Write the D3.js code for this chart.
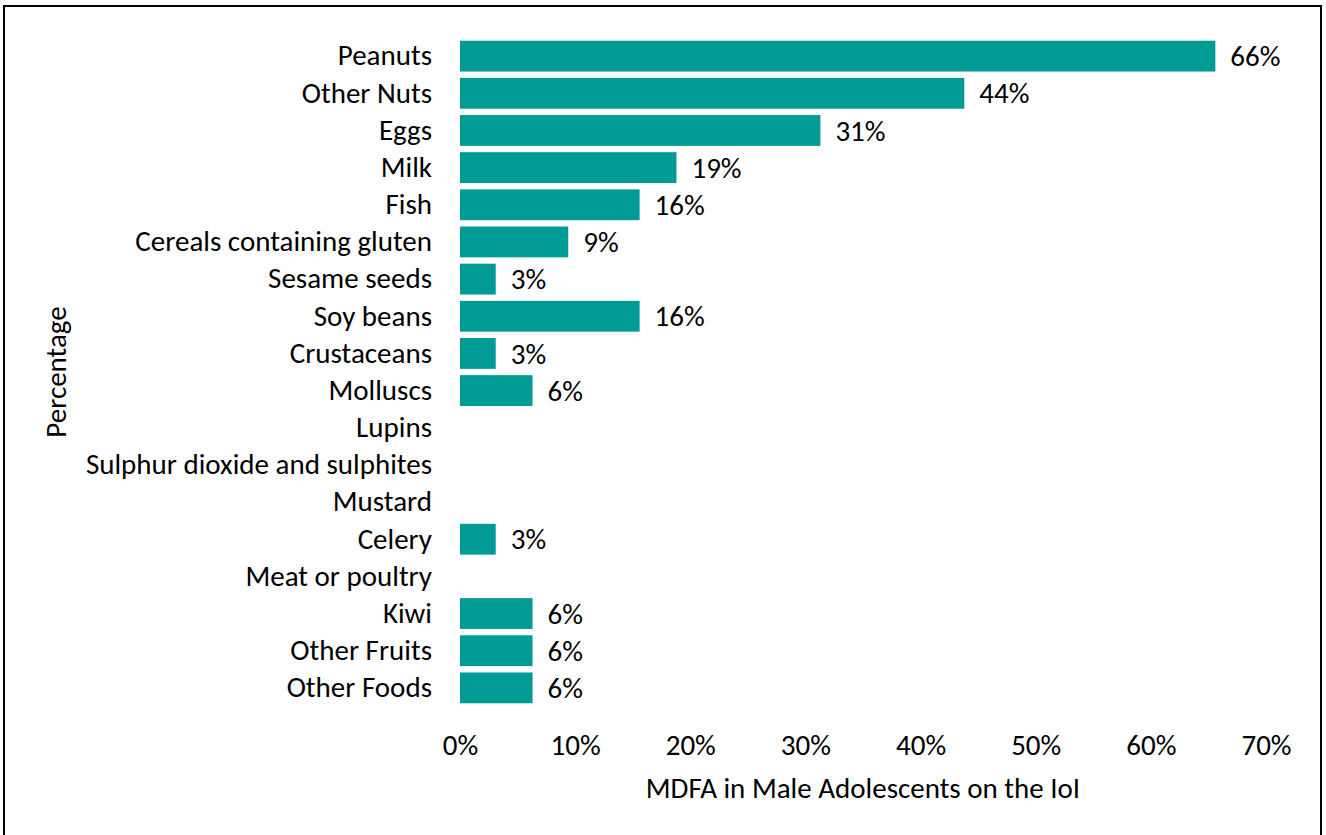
<!DOCTYPE html>
<html lang="en">
<head>
    <meta charset="UTF-8">
    <title>MDFA in Male Adolescents</title>
    <script src="https://d3js.org/d3.v7.min.js"></script>
    <style>
        body { margin: 0; background: #fff; }
        svg text { font-family: Carlito, Lato, "Open Sans", sans-serif; fill: #000; }
    </style>
</head>
<body>
    <svg width="1326" height="835"></svg>

    <script>
        // Food categories (top to bottom)
        const foods = [
            "Peanuts", "Other Nuts", "Eggs", "Milk", "Fish",
            "Cereals containing gluten", "Sesame seeds", "Soy beans",
            "Crustaceans", "Molluscs", "Lupins", "Sulphur dioxide and sulphites",
            "Mustard", "Celery", "Meat or poultry", "Kiwi", "Other Fruits", "Other Foods"
        ];
        // Percentage of respondents (null = no bar)
        const values = [65.6, 43.8, 31.3, 18.8, 15.6, 9.4, 3.1, 15.6, 3.1, 6.3,
                        null, null, null, 3.1, null, 6.3, 6.3, 6.3];
        const xTicks = [0, 10, 20, 30, 40, 50, 60, 70];

        const margin = { top: 37, right: 60, bottom: 130, left: 460 };
        const height = 835 - margin.top - margin.bottom;

        const svg = d3.select("svg");

        // outer frame
        svg.append("rect")
            .attr("x", 4).attr("y", 6)
            .attr("width", 1317).attr("height", 840)
            .attr("fill", "none")
            .attr("stroke", "#000")
            .attr("stroke-width", 2);

        const g = svg.append("g")
            .attr("transform", `translate(${margin.left},${margin.top})`);

        const x = d3.scaleLinear().domain([0, 70]).range([0, 806]);
        const y = d3.scaleBand().domain(foods).range([0, 670]).paddingInner(0.17).paddingOuter(0.1);

        const fs = 29;
        const rows = foods.map((f, i) => ({ f, v: values[i] })).filter(d => d.v != null);

        // bars
        g.selectAll("rect.bar")
            .data(rows)
            .join("rect")
            .attr("class", "bar")
            .attr("x", 0)
            .attr("y", d => y(d.f))
            .attr("width", d => x(d.v))
            .attr("height", y.bandwidth())
            .attr("fill", "#009B95");

        // value labels
        g.selectAll("text.val")
            .data(rows)
            .join("text")
            .attr("class", "val")
            .attr("x", d => x(d.v) + 15)
            .attr("y", d => y(d.f) + y.bandwidth() / 2)
            .attr("dy", "0.35em")
            .attr("font-size", fs)
            .text(d => Math.round(d.v) + "%");

        // y axis labels
        const yAxis = g.append("g")
            .call(d3.axisLeft(y).tickSize(0).tickPadding(28));
        yAxis.select(".domain").remove();
        yAxis.selectAll("text")
            .attr("font-size", fs)
            .attr("font-family", null)
            .attr("fill", null);

        // x axis
        const xAxis = g.append("g")
            .attr("transform", `translate(0,${height})`)
            .call(d3.axisBottom(x).tickValues(xTicks).tickFormat(d => d + "%").tickSize(0).tickPadding(29));
        xAxis.select(".domain").remove();
        xAxis.selectAll("text")
            .attr("font-size", fs)
            .attr("font-family", null)
            .attr("fill", null);

        // axis titles
        svg.append("text")
            .attr("x", margin.left + 806 / 2)
            .attr("y", 798)
            .attr("text-anchor", "middle")
            .attr("font-size", fs)
            .text("MDFA in Male Adolescents on the IoI");

        svg.append("text")
            .attr("transform", "translate(66,372) rotate(-90)")
            .attr("text-anchor", "middle")
            .attr("font-size", fs)
            .text("Percentage");
    </script>
</body>
</html>
